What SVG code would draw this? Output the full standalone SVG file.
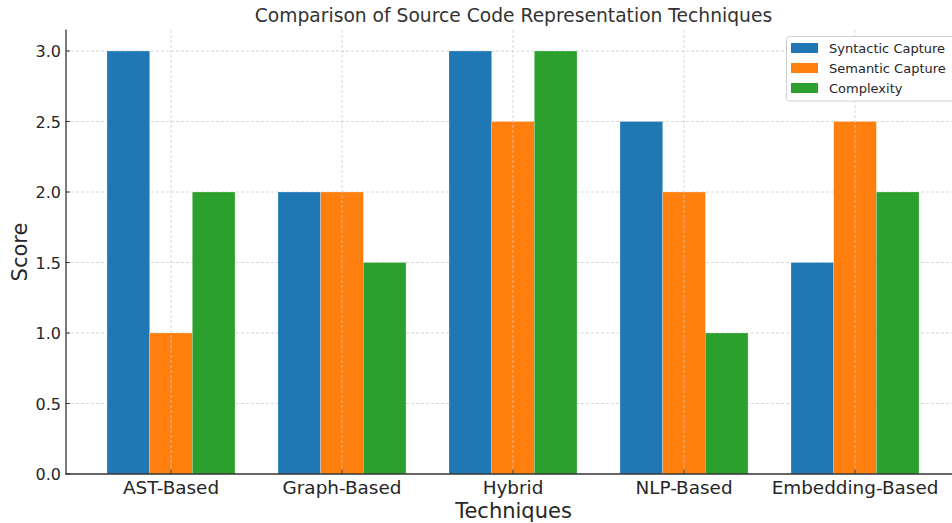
<svg xmlns="http://www.w3.org/2000/svg" width="952" height="523" viewBox="0 0 952 523">
<style>
text{font-family:"DejaVu Sans","Liberation Sans",sans-serif;fill:#262626}
.grid{stroke:#cccccc;stroke-width:0.8;stroke-dasharray:3,2;fill:none}
.ytl{font-size:16px;text-anchor:end}
.xtl{font-size:18.4px;text-anchor:middle}
.s{fill:#1f77b4}.m{fill:#ff7f0e}.c{fill:#2ca02c}
.bar rect{stroke:#ffffff;stroke-opacity:0.4;stroke-width:0.6}
.leg{font-size:13px}
</style>
<rect width="952" height="523" fill="#ffffff"/>
<g id="hgrid" class="grid">
<line x1="66" y1="403.5" x2="952" y2="403.5"/>
<line x1="66" y1="333" x2="952" y2="333"/>
<line x1="66" y1="262.5" x2="952" y2="262.5"/>
<line x1="66" y1="192" x2="952" y2="192"/>
<line x1="66" y1="121.5" x2="952" y2="121.5"/>
<line x1="66" y1="51" x2="952" y2="51"/>
</g>
<g id="bars" class="bar">
<g id="ast"><rect class="s" x="107" y="51" width="42.7" height="423"/><rect class="m" x="149.7" y="333" width="42.7" height="141"/><rect class="c" x="192.3" y="192" width="42.7" height="282"/></g>
<g id="graph"><rect class="s" x="278" y="192" width="42.7" height="282"/><rect class="m" x="320.7" y="192" width="42.7" height="282"/><rect class="c" x="363.3" y="262.5" width="42.7" height="211.5"/></g>
<g id="hybrid"><rect class="s" x="449" y="51" width="42.7" height="423"/><rect class="m" x="491.7" y="121.5" width="42.7" height="352.5"/><rect class="c" x="534.3" y="51" width="42.7" height="423"/></g>
<g id="nlp"><rect class="s" x="620" y="121.5" width="42.7" height="352.5"/><rect class="m" x="662.7" y="192" width="42.7" height="282"/><rect class="c" x="705.3" y="333" width="42.7" height="141"/></g>
<g id="embedding"><rect class="s" x="791" y="262.5" width="42.7" height="211.5"/><rect class="m" x="833.7" y="121.5" width="42.7" height="352.5"/><rect class="c" x="876.3" y="192" width="42.7" height="282"/></g>
</g>
<g id="vgrid" class="grid">
<line x1="171" y1="30" x2="171" y2="474"/>
<line x1="342" y1="30" x2="342" y2="474"/>
<line x1="513" y1="30" x2="513" y2="474"/>
<line x1="684" y1="30" x2="684" y2="474"/>
<line x1="855" y1="30" x2="855" y2="474"/>
</g>
<g id="axes" stroke="#333333" stroke-width="1.3" fill="none">
<line x1="66" y1="29.5" x2="66" y2="474.5"/>
<line x1="65.5" y1="474" x2="952" y2="474"/>
<path d="M171 474v-4M342 474v-4M513 474v-4M684 474v-4M855 474v-4M66 474h4M66 403.5h4M66 333h4M66 262.5h4M66 192h4M66 121.5h4M66 51h4" stroke-width="1"/>
</g>
<g id="yticks">
<text class="ytl" x="61" y="480">0.0</text>
<text class="ytl" x="61" y="409.5">0.5</text>
<text class="ytl" x="61" y="339">1.0</text>
<text class="ytl" x="61" y="268.5">1.5</text>
<text class="ytl" x="61" y="198">2.0</text>
<text class="ytl" x="61" y="127.5">2.5</text>
<text class="ytl" x="61" y="57">3.0</text>
</g>
<g id="xticks">
<text class="xtl" x="171" y="494">AST-Based</text>
<text class="xtl" x="342" y="494">Graph-Based</text>
<text class="xtl" x="513" y="494">Hybrid</text>
<text class="xtl" x="684" y="494">NLP-Based</text>
<text class="xtl" x="855" y="494">Embedding-Based</text>
</g>
<text id="title" x="513.5" y="22" font-size="18.7" text-anchor="middle" style="fill:#333333">Comparison of Source Code Representation Techniques</text>
<text id="xlabel" x="513.5" y="518" font-size="21" text-anchor="middle">Techniques</text>
<text id="ylabel" transform="translate(27,252) rotate(-90)" font-size="21" text-anchor="middle">Score</text>
<g id="legend">
<rect x="786.5" y="36.5" width="172" height="64.5" rx="3" fill="#ffffff" fill-opacity="0.85" stroke="#d0d0d0" stroke-width="1"/>
<rect class="s" x="791" y="43" width="27" height="10"/>
<rect class="m" x="791" y="63" width="27" height="10"/>
<rect class="c" x="791" y="83" width="27" height="10"/>
<text class="leg" x="829" y="52.5">Syntactic Capture</text>
<text class="leg" x="829" y="72.5">Semantic Capture</text>
<text class="leg" x="829" y="92.5">Complexity</text>
</g>
</svg>
